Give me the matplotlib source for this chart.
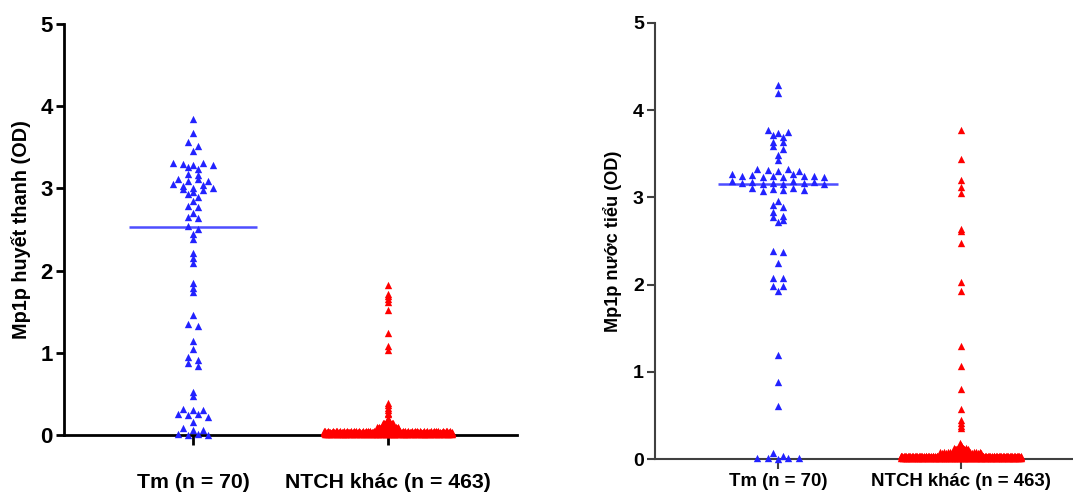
import numpy as np
import matplotlib
matplotlib.use("Agg")
import matplotlib.pyplot as plt

plt.rcParams["font.family"] = ["Liberation Sans", "DejaVu Sans"]
plt.rcParams["font.weight"] = "bold"

# ---- data (OD values) ----
groups = ["Tm (n = 70)", "NTCH khác (n = 463)"]

tm_serum = [3.84, 3.67, 3.56, 3.52, 3.46,
            3.31, 3.31, 3.30, 3.29, 3.28, 3.26, 3.23, 3.18, 3.16,
            3.12, 3.12, 3.09, 3.09, 3.05, 3.04, 3.03, 3.01, 3.01,
            2.99, 2.98, 2.96, 2.93, 2.90, 2.85, 2.79, 2.77, 2.70,
            2.65, 2.64, 2.54, 2.51, 2.45, 2.38, 2.21, 2.15, 2.09,
            1.85, 1.79, 1.74, 1.46, 1.35, 1.33, 1.14, 1.05,
            0.95, 0.91, 0.88, 0.84, 0.52, 0.47,
            0.32, 0.30, 0.30, 0.26, 0.26, 0.24, 0.22, 0.16,
            0.08, 0.06, 0.06, 0.01, 0.01, 0.00, 0.00]
# individual readings of the other group, then the crowded low band as level/count
ntch_serum_high = [1.82, 1.72, 1.69, 1.66, 1.62, 1.52, 1.24, 1.08, 1.04,
                   0.39, 0.37, 0.33, 0.31, 0.27, 0.25, 0.21, 0.19]
ntch_serum_low_levels = [0.15, 0.14, 0.13, 0.12, 0.11, 0.10, 0.09, 0.08,
                         0.07, 0.06, 0.05, 0.04, 0.03, 0.02, 0.01]
ntch_serum_low_counts = [4, 5, 6, 6, 7, 10, 11, 12, 13, 14, 43, 60, 75, 85, 95]

tm_urine = [4.29, 4.20, 3.77, 3.75, 3.74, 3.71, 3.69, 3.64, 3.64, 3.59, 3.56, 3.49, 3.43,
            3.33, 3.33, 3.31, 3.30, 3.30,
            3.27, 3.27, 3.26, 3.25, 3.25, 3.24, 3.24, 3.23, 3.23, 3.23,
            3.19, 3.19, 3.18, 3.18, 3.17, 3.16, 3.16, 3.15, 3.15, 3.15,
            3.11, 3.11, 3.10, 3.09, 3.08, 3.07,
            2.96, 2.91, 2.89, 2.83, 2.79, 2.78, 2.74, 2.72,
            2.38, 2.37, 2.25, 2.08, 2.08, 1.98, 1.98, 1.93,
            1.19, 0.88, 0.61,
            0.07, 0.03, 0.01, 0.01, 0.01, 0.01, 0.00]
ntch_urine_high = [3.77, 3.44, 3.20, 3.12, 3.05, 2.64, 2.62, 2.48, 2.03, 1.93,
                   1.30, 1.07, 0.80, 0.57, 0.45, 0.41, 0.38, 0.35, 0.18, 0.16]
ntch_urine_low_levels = [0.14, 0.13, 0.12, 0.11, 0.10, 0.09, 0.08, 0.07,
                         0.06, 0.05, 0.04, 0.03, 0.02, 0.01]
ntch_urine_low_counts = [3, 4, 5, 6, 7, 14, 12, 10, 8, 6, 68, 90, 100, 110]

BLUE = "#2222ff"
RED = "#ff0000"


def expand(high, levels, counts):
    return np.concatenate([np.asarray(high, float), np.repeat(levels, counts)])


def swarm_positions(values, center, step, half_width, row_gap=0.045):
    # Prism-like scatter: close values share a row, rows spread sideways,
    # spacing shrinks for every row if the widest one would not fit
    vals = np.asarray(values, dtype=float)
    order = np.argsort(-vals, kind="stable")
    rows = []
    i = 0
    while i < len(order):
        top = vals[order[i]]
        j = i + 1
        while j < len(order) and top - vals[order[j]] < row_gap:
            j += 1
        rows.append(order[i:j])
        i = j
    widest = max(len(r) for r in rows)
    if widest > 1:
        step = min(step, 2 * half_width / (widest - 1))
    x = np.empty(len(vals))
    for r in rows:
        n = len(r)
        slots = (np.arange(n) - (n - 1) / 2) * step
        rank = np.argsort(np.argsort((np.arange(n) * 0.618034) % 1.0))
        x[r] = center + slots[rank]
    return x


def draw_panel(ax, series, colors, step, ylabel, spine_w, spine_c,
               ytick_size, xtick_size, xtick_pad, ylabel_size, ylabel_pad):
    for k, (vals, col) in enumerate(zip(series, colors)):
        xs = swarm_positions(vals, k, step, 0.33)
        ax.scatter(xs, vals, marker="^", s=28, color=col, linewidths=0,
                   zorder=3, clip_on=False)
        med = np.median(vals)
        ax.plot([k - 0.33, k + 0.33], [med, med], color=col, lw=1.8,
                alpha=0.8, zorder=2.8 if k else 4, solid_capstyle="butt")
    ax.set_ylim(0, 5)
    ax.set_yticks(range(6))
    ax.set_xticks([0, 1])
    ax.set_xticklabels(groups)
    for side in ("top", "right"):
        ax.spines[side].set_visible(False)
    for side in ("left", "bottom"):
        ax.spines[side].set_linewidth(spine_w)
        ax.spines[side].set_color(spine_c)
    ax.tick_params(axis="y", length=6, width=spine_w, color=spine_c,
                   labelsize=ytick_size, pad=2)
    ax.tick_params(axis="x", length=7, width=spine_w, color=spine_c,
                   labelsize=xtick_size, pad=xtick_pad)
    ax.set_ylabel(ylabel, fontsize=ylabel_size, fontweight="bold",
                  labelpad=ylabel_pad)


fig = plt.figure(figsize=(10.73, 4.93), dpi=100)

ax1 = fig.add_axes([64 / 1073, 58 / 493, 453 / 1073, 411 / 493])
serum = [np.asarray(tm_serum, float),
         expand(ntch_serum_high, ntch_serum_low_levels, ntch_serum_low_counts)]
draw_panel(ax1, serum, [BLUE, RED], 0.0513, "Mp1p huyết thanh (OD)",
           2.0, "black", 16, 15.3, 20, 14.3, 7)
ax1.set_xlim(-0.6615, 1.6615)

ax2 = fig.add_axes([655 / 1073, 34 / 493, 418 / 1073, 436 / 493])
urine = [np.asarray(tm_urine, float),
         expand(ntch_urine_high, ntch_urine_low_levels, ntch_urine_low_counts)]
draw_panel(ax2, urine, [BLUE, RED], 0.0563, "Mp1p nước tiểu (OD)",
           1.5, "#404040", 14, 13.4, 3, 13.1, 8)
ax2.set_xlim(-0.672, 1.612)

fig.savefig("out.png", dpi=100)
